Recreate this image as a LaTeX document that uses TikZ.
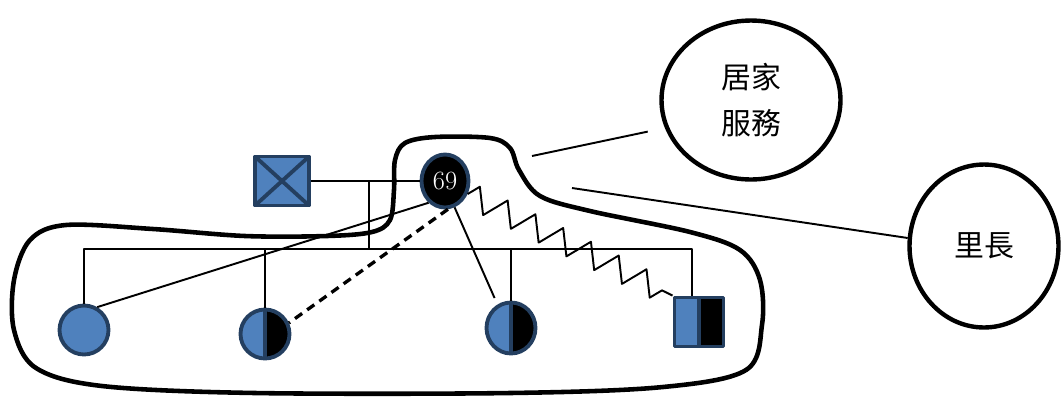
\documentclass[tikz,border=0pt]{standalone}
\usepackage{fontspec}
\newfontfamily\cjk{Noto Sans CJK TC}
\usetikzlibrary{shapes.geometric, decorations.pathmorphing}
\definecolor{symfill}{HTML}{4F81BD}
\definecolor{symedge}{HTML}{243F60}

\begin{document}
\begin{tikzpicture}[x=0.02cm, y=-0.02cm, line width=1.1pt, line join=round,
    sym/.style={draw=symedge, fill=symfill, line width=2.2pt, inner sep=0pt},
    halfblk/.style={path picture={
        \fill[black] (path picture bounding box.north) rectangle (path picture bounding box.south east);
        \draw[symedge, line width=2.2pt] (path picture bounding box.north) -- (path picture bounding box.south);}},
    crossed/.style={path picture={
        \draw[symedge, line width=2.2pt] (path picture bounding box.north west) -- (path picture bounding box.south east)
          (path picture bounding box.north east) -- (path picture bounding box.south west);}},
    bubble/.style={draw, ellipse, line width=2.5pt, inner sep=0pt, align=center,
      font=\cjk\fontsize{17}{26}\selectfont}]
  \useasboundingbox (0,0) rectangle (1062,397);
  % parents
  \node[sym, crossed, minimum width=1.08cm, minimum height=0.98cm] (fa) at (282,181) {};
  \node[sym, ellipse, fill=black, minimum width=0.94cm, minimum height=1.06cm,
    text=white, font=\fontsize{15}{15}\selectfont] (idx) at (445,181) {69};
  % children
  \node[sym, circle, minimum size=0.98cm] (c1) at (84,330) {};
  \node[sym, circle, halfblk, minimum size=0.98cm] (c2) at (265,334) {};
  \node[sym, ellipse, halfblk, minimum width=0.98cm, minimum height=1.02cm] (c3) at (511,328) {};
  \node[sym, halfblk, minimum size=0.98cm] (c4) at (699,322) {};
  % outside resources
  \node[bubble, minimum width=3.58cm, minimum height=3.18cm] (svc) at (751,100) {居家\\服務};
  \node[bubble, minimum width=2.98cm, minimum height=3.26cm] (chief) at (984,246) {里長};
  % family lines
  \coordinate (sib) at (369,249);
  \draw (fa.east) -- (idx.west);
  \draw (sib) -- (sib |- fa.east);
  \draw (c1.north) |- (sib) -| ([xshift=-0.14cm]c4.north);
  \foreach \c in {c2,c3} { \draw (\c.north) -- (\c.north |- sib); }
  % ties of the index person
  \draw (idx.233) -- (c1.60);
  \draw[line width=1.9pt, dash pattern=on 5pt off 3.5pt] (idx.276) -- (c2.25);
  \draw[shorten >=4pt] (idx.290) -- (c3.120);
  \draw[decorate, decoration={zigzag, segment length=0.62cm, amplitude=0.24cm}] (idx.330) -- (c4.north west);
  % household boundary
  \draw[line width=2.6pt] plot[smooth cycle, tension=0.55] coordinates {
    (66,225) (153,229) (245,236) (327,236) (372,232) (390,220) (394,190) (395,160)
    (405,143) (435,137) (490,138) (510,148) (519,170) (540,196) (590,211) (690,232)
    (740,250) (760,280) (762,325) (746,370) (663,387) (510,393) (255,393) (102,386)
    (36,368) (14,330) (14,280) (30,240)};
  % contacts outside
  \coordinate (hs) at (532,156);
  \coordinate (ch) at (572,188);
  \draw[shorten >=0.35cm] (hs) -- (svc.198);
  \draw (ch) -- (chief.174);
\end{tikzpicture}
\end{document}
